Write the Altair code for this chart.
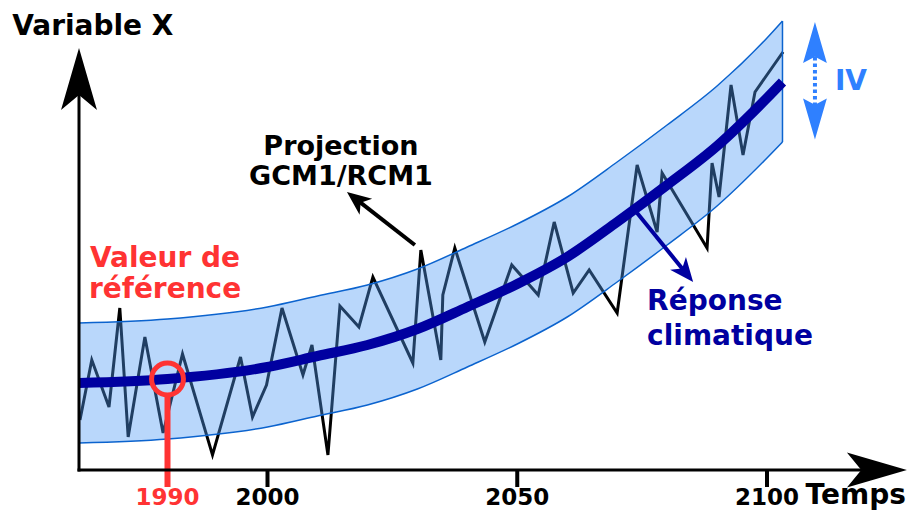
import altair as alt
import pandas as pd

FONT = "DejaVu Sans"
RED = "#ff3333"
NAVY = "#0000a0"
LIGHT = "#2f80ff"
BAND_FILL = "#509bf5"
BAND_EDGE = "#0b63ce"

# ---------------- data ----------------
# smooth climate response and its internal-variability band (value units, 0 = time axis)
center_years = [1972, 1990, 2000, 2010, 2020, 2030, 2040, 2050, 2060, 2070, 2080, 2090, 2100, 2103.1]
center_values = [87, 91, 103, 114, 125, 141, 163, 186, 213, 248, 285, 324, 372, 388]
band_upper = [147, 151, 163, 174, 185, 201, 223, 246, 273, 308, 345, 384, 432, 449]
band_lower = [27, 31, 43, 54, 65, 81, 103, 126, 153, 188, 225, 264, 312, 328]

# one GCM/RCM projection (noisy series)
noise_years = [1972.2, 1974.6, 1978.1, 1980.3, 1982.0, 1985.4, 1989.1, 1991.5, 1994.5, 1997.3,
               1998.5, 1999.9, 2002.9, 2007.1, 2008.9, 2012.1, 2014.5, 2018.3, 2021.1, 2029.1,
               2030.7, 2034.7, 2035.1, 2037.5, 2043.5, 2048.9, 2054.2, 2057.4, 2061.2, 2064.4,
               2070.0, 2074.0, 2078.0, 2079.0, 2088.0, 2089.0, 2090.4, 2092.8, 2095.2, 2097.6,
               2103.2]
noise_values = [50, 110, 63, 162, 33, 133, 37, 116, 15, 113,
                53, 85, 162, 95, 125, 15, 164, 143, 193, 107,
                220, 110, 175, 222, 128, 205, 175, 248, 177, 200,
                157, 305, 238, 297, 222, 307, 273, 385, 315, 378,
                418]

tick_years = [2000, 2050, 2100]
tick_labels = ["2000", "2050", "2100"]
ref_year = 1990
ref_label = "1990"
ref_value = 91

# ---------------- scales ----------------
X_SCALE = alt.Scale(domain=[1972, 1990, 2000, 2100], range=[71, 159.5, 259.5, 759],
                    nice=False, zero=False)
Y_SCALE = alt.Scale(domain=[-41, 462], nice=False, zero=False)


def X(f="year"):
    return alt.X(f"{f}:Q", scale=X_SCALE, axis=None)


def Y(f="v"):
    return alt.Y(f"{f}:Q", scale=Y_SCALE, axis=None)


band_df = pd.DataFrame({"year": center_years, "center": center_values,
                        "upper": band_upper, "lower": band_lower})
noise_df = pd.DataFrame({"year": noise_years, "v": noise_values})

ARROW_A = "M0,-1L0.58,1L0,0.52L-0.58,1Z"
ARROW_B = "M0,-1L0.85,1L0,0.45L-0.85,1Z"
ARROW_C = "M0,-1L0.58,1L0,0.7L-0.58,1Z"


def seg(rows, color, width, **kw):
    df = pd.DataFrame(rows, columns=["year", "v", "year2", "v2"])
    return alt.Chart(df).mark_rule(color=color, strokeWidth=width, **kw).encode(
        x=X(), y=Y(), x2=alt.X2("year2:Q"), y2=alt.Y2("v2:Q"))


def head(year, v, shape, size, angle, color):
    df = pd.DataFrame({"year": [year], "v": [v]})
    return alt.Chart(df).mark_point(shape=shape, size=size, angle=angle, filled=True,
                                    color=color, opacity=1, strokeWidth=0).encode(x=X(), y=Y())


def text(rows, color, size, align="left", **kw):
    df = pd.DataFrame(rows, columns=["year", "v", "label"])
    return alt.Chart(df).mark_text(font=FONT, fontWeight="bold", fontSize=size, color=color,
                                   align=align, baseline="alphabetic", **kw).encode(
        x=X(), y=Y(), text="label:N")


noise = alt.Chart(noise_df).mark_line(color="black", strokeWidth=3).encode(x=X(), y=Y())
band_area = alt.Chart(band_df).mark_area(color=BAND_FILL, opacity=0.4, interpolate="monotone").encode(
    x=X(), y=Y("lower"), y2=alt.Y2("upper:Q"))
band_up = alt.Chart(band_df).mark_line(color=BAND_EDGE, strokeWidth=1.5, interpolate="monotone").encode(
    x=X(), y=Y("upper"))
band_lo = alt.Chart(band_df).mark_line(color=BAND_EDGE, strokeWidth=1.5, interpolate="monotone").encode(
    x=X(), y=Y("lower"))
band_end = alt.Chart(band_df.tail(1)).mark_rule(color=BAND_EDGE, strokeWidth=1.5).encode(
    x=X(), y=Y("lower"), y2=alt.Y2("upper:Q"))
center = alt.Chart(band_df).mark_line(color=NAVY, strokeWidth=10, interpolate="monotone").encode(
    x=X(), y=Y("center"))

# axes
axes = seg([[1972, 0, 1972, 375], [1972, 0, 2118.9, 0]], "black", 3, strokeCap="square")
y_head = head(1972, 391, ARROW_A, 3844, 0, "black")
x_head = head(2122.0, 0, ARROW_A, 3600, 90, "black")
ticks = seg([[y, 0, y, -17] for y in tick_years], "black", 4)
tick_text = text([[y, -35, l] for y, l in zip(tick_years, tick_labels)], "black", 23, align="center")

# reference period marker
ref_line = seg([[ref_year, 73, ref_year, -17]], RED, 6)
ref_circle = alt.Chart(pd.DataFrame({"year": [ref_year], "v": [ref_value]})).mark_point(
    shape="circle", size=1018, color=RED, strokeWidth=5, filled=False, opacity=1).encode(x=X(), y=Y())
ref_text = text([[ref_year, -35, ref_label]], RED, 23, align="center")

# titles / annotations
titles = text([[1958.4, 435, "Variable X"]], "black", 28)
temps = text([[2127.8, -34, "Temps"]], "black", 28, align="right")
proj_text = text([[2014.7, 315, "Projection"], [2014.7, 285, "GCM1/RCM1"]], "black", 27, align="center")
proj_shaft = seg([[2029.5, 225, 2017.8, 270.6]], "black", 4)
proj_head = head(2017.8, 270.6, ARROW_B, 576, 308, "black")
ref_words = text([[1989.5, 203, "Valeur de"], [1989.5, 172, "référence"]], RED, 28, align="center")
resp_text = text([[2076.0, 160, "Réponse"], [2076.0, 125, "climatique"]], NAVY, 28)
resp_shaft = seg([[2074.0, 257, 2083.7, 197.3]], NAVY, 4)
resp_head = head(2083.7, 197.3, ARROW_B, 576, 141, NAVY)

# internal variability double arrow
iv_top = head(2109.6, 427.5, ARROW_C, 1681, 0, LIGHT)
iv_bot = head(2109.6, 351, ARROW_C, 1681, 180, LIGHT)
iv_dots = seg([[2109.6, 413, 2109.6, 362]], LIGHT, 4, strokeDash=[3.5, 3])
iv_text = text([[2113.6, 380, "IV"]], LIGHT, 28)

chart = alt.layer(
    noise, band_area, band_up, band_lo, band_end, center,
    ref_line, ref_circle,
    axes, y_head, x_head, ticks, tick_text, ref_text,
    titles, temps, proj_text, proj_shaft, proj_head, ref_words,
    resp_text, resp_shaft, resp_head,
    iv_top, iv_bot, iv_dots, iv_text,
).properties(
    width=900, height=503, autosize=alt.AutoSizeParams(type="none"), padding=0
).configure_view(stroke=None)

chart.save("out.html", embed_options={"renderer": "svg", "actions": False})
